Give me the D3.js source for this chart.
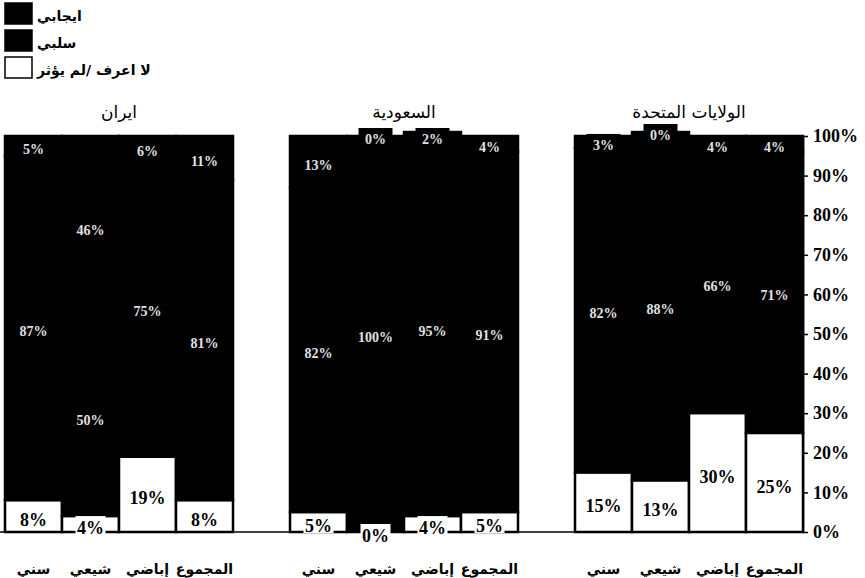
<!DOCTYPE html>
<html>
<head>
<meta charset="utf-8">
<script src="https://cdn.jsdelivr.net/npm/d3@7"></script>
<style>
  body { margin: 0; background: #fff; }
  svg { display: block; }
</style>
</head>
<body>
<div class="chart-js"></div>
<script>
'use strict';

// groups, left to right
var groups = ['ايران', 'السعودية', 'الولايات المتحدة'];
var categories = ['سني', 'شيعي', 'إباضي', 'المجموع'];

// per group, per category (percent)
var dontKnow = [[8, 4, 19, 8], [5, 0, 4, 5], [15, 13, 30, 25]];
var negative = [[87, 50, 75, 81], [82, 100, 95, 91], [82, 88, 66, 71]];
var positive = [[5, 46, 6, 11], [13, 0, 2, 4], [3, 0, 4, 4]];

var legendLabels = ['ايجابي', 'سلبي', 'لا اعرف /لم يؤثر'];
var yTicks = [0, 10, 20, 30, 40, 50, 60, 70, 80, 90, 100];

var App = (function() {
function run() {

  var owidth = 865;
  var oheight = 578;

  // one band per bar, empty bands between groups
  var slots = [];
  groups.forEach(function(g, gi) {
    if (gi > 0) slots.push('gap' + gi);
    categories.forEach(function(c) { slots.push(g + '|' + c); });
  });

  var x = d3.scaleBand()
    .domain(slots)
    .range([5, 803])
    .padding(0);

  var y = d3.scaleLinear()
    .domain([0, 100])
    .range([532, 136]);

  // build segments
  var segs = [];
  groups.forEach(function(g, gi) {
    categories.forEach(function(c, ci) {
      var key = g + '|' + c;
      var a = dontKnow[gi][ci], b = negative[gi][ci], p = positive[gi][ci];
      segs.push({ key: key, y0: a, y1: a + b, v: b, kind: 'dark' });
      segs.push({ key: key, y0: a + b, y1: a + b + p, v: p, kind: 'dark' });
      segs.push({ key: key, y0: 0, y1: a, v: a, kind: 'light' });
    });
  });

  var svg = d3.select('.chart-js').append('svg')
    .attr('width', owidth)
    .attr('height', oheight);

  // bars
  svg.append('g').selectAll('rect')
    .data(segs)
    .enter().append('rect')
    .attr('x', function(d) { return x(d.key); })
    .attr('width', x.bandwidth())
    .attr('y', function(d) { return y(d.y1); })
    .attr('height', function(d) { return y(d.y0) - y(d.y1); })
    .attr('fill', function(d) { return d.kind === 'dark' ? '#000' : '#fff'; })
    .attr('stroke', '#000')
    .attr('stroke-width', 2.5);

  // baseline
  svg.append('line')
    .attr('x1', 0).attr('x2', 803)
    .attr('y1', y(0)).attr('y2', y(0))
    .attr('stroke', '#000')
    .attr('stroke-width', 1.5);

  // value labels
  var lab = svg.append('g').selectAll('g')
    .data(segs)
    .enter().append('g')
    .attr('transform', function(d) {
      return 'translate(' + (x(d.key) + x.bandwidth() / 2) + ',' + y((d.y0 + d.y1) / 2) + ')';
    });
  lab.append('rect')
    .attr('x', function(d) { return d.kind === 'dark' ? -17 : -15; })
    .attr('width', function(d) { return d.kind === 'dark' ? 34 : 30; })
    .attr('y', -8)
    .attr('height', 19)
    .attr('fill', function(d) { return d.kind === 'dark' ? '#000' : '#fff'; });
  lab.append('text')
    .attr('text-anchor', 'middle')
    .attr('dy', function(d) { return d.kind === 'dark' ? 8 : 10; })
    .attr('font-family', '"Liberation Serif", "Times New Roman", serif')
    .attr('font-weight', 'bold')
    .attr('font-size', function(d) { return d.kind === 'dark' ? 14 : 18; })
    .attr('fill', function(d) { return d.kind === 'dark' ? '#e0e0e0' : '#000'; })
    .text(function(d) { return d.v + '%'; });

  // y axis on the right
  var yAxis = d3.axisRight(y)
    .tickValues(yTicks)
    .tickSize(5)
    .tickSizeOuter(0)
    .tickFormat(function(d) { return d + '%'; });
  var ya = svg.append('g')
    .attr('transform', 'translate(803,0)')
    .call(yAxis);
  ya.select('.domain').attr('stroke', '#000').attr('stroke-width', 1.5);
  ya.selectAll('.tick line').attr('stroke', '#000').attr('stroke-width', 1.5);
  ya.selectAll('.tick text')
    .attr('x', 10)
    .attr('fill', '#000')
    .attr('font-family', '"Liberation Serif", "Times New Roman", serif')
    .attr('font-weight', 'bold')
    .attr('font-size', 18);

  // group titles
  svg.append('g').selectAll('text')
    .data(groups)
    .enter().append('text')
    .attr('x', function(g) {
      var a = x(g + '|' + categories[0]);
      var b = x(g + '|' + categories[categories.length - 1]) + x.bandwidth();
      return (a + b) / 2;
    })
    .attr('y', 118)
    .attr('text-anchor', 'middle')
    .attr('font-family', '"DejaVu Sans", sans-serif')
    .attr('font-size', 17)
    .attr('fill', '#000')
    .text(function(g) { return g; });

  // category labels
  var cats = [];
  groups.forEach(function(g) {
    categories.forEach(function(c) { cats.push({ key: g + '|' + c, name: c }); });
  });
  svg.append('g').selectAll('text')
    .data(cats)
    .enter().append('text')
    .attr('x', function(d) { return x(d.key) + x.bandwidth() / 2; })
    .attr('y', 574)
    .attr('text-anchor', 'middle')
    .attr('font-family', '"DejaVu Sans", sans-serif')
    .attr('font-weight', 'bold')
    .attr('font-size', 14)
    .attr('fill', '#000')
    .text(function(d) { return d.name; });

  // legend
  var leg = svg.append('g').selectAll('g')
    .data(legendLabels)
    .enter().append('g')
    .attr('transform', function(d, i) { return 'translate(5,' + (3 + i * 27) + ')'; });
  leg.append('rect')
    .attr('width', 27)
    .attr('height', 21)
    .attr('fill', function(d, i) { return i < 2 ? '#000' : '#fff'; })
    .attr('stroke', '#000')
    .attr('stroke-width', 1.5);
  leg.append('text')
    .attr('x', 32)
    .attr('y', 18)
    .attr('font-family', '"DejaVu Sans", sans-serif')
    .attr('font-weight', 'bold')
    .attr('font-size', 14)
    .attr('fill', '#000')
    .text(function(d) { return d; });
}

return { run : run }
}());
document.addEventListener('DOMContentLoaded', App.run);
</script>
</body>
</html>
